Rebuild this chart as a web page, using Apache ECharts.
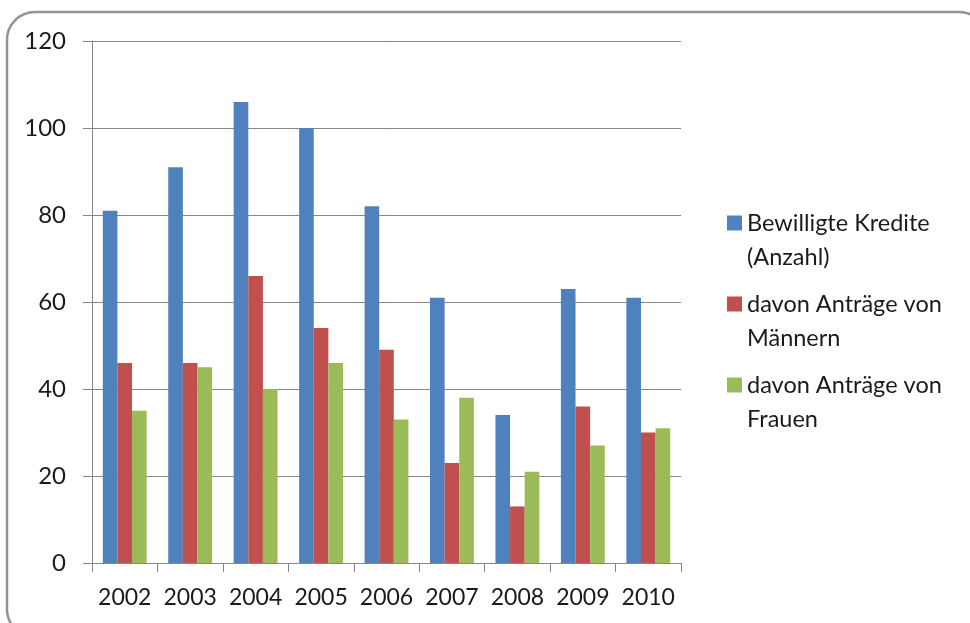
<!DOCTYPE html>
<html>
<head>
<meta charset="utf-8">
<script src="https://cdn.jsdelivr.net/npm/echarts@6/dist/echarts.min.js"></script>
<style>
  html, body { margin: 0; padding: 0; background: #ffffff; }
  #chart { width: 970px; height: 623px; }
</style>
</head>
<body>
<div id="chart"></div>
<script>
// Jahre
const years = ['2002', '2003', '2004', '2005', '2006', '2007', '2008', '2009', '2010'];

// Bewilligte Kredite gesamt und Aufteilung nach Antragstellern
const kredite = [81, 91, 106, 100, 82, 61, 34, 63, 61];
const maenner = [46, 46, 66, 54, 49, 23, 13, 36, 30];
const frauen  = [35, 45, 40, 46, 33, 38, 21, 27, 31];

const seriesNames = ['Bewilligte Kredite (Anzahl)', 'davon Anträge von Männern', 'davon Anträge von Frauen'];
const legendLabels = {
  'Bewilligte Kredite (Anzahl)': 'Bewilligte Kredite\n(Anzahl)',
  'davon Anträge von Männern': 'davon Anträge von\nMännern',
  'davon Anträge von Frauen': 'davon Anträge von\nFrauen'
};
const colors = ['#4F81BD', '#C0504D', '#9BBB59'];

const FONT = 'Lato, "Open Sans", sans-serif';
const AXIS_GRAY = '#868686';

// Legend marker: square aligned with the first text line
const legendIcon = 'path://M0,0H15V15H0Z M0,49L0,49';

const chart = echarts.init(document.getElementById('chart'), null, { renderer: 'canvas' });

chart.setOption({
  animation: false,
  backgroundColor: '#ffffff',
  textStyle: { fontFamily: FONT },
  graphic: [{
    type: 'rect',
    shape: { x: 7, y: 12, width: 980, height: 625, r: 28 },
    style: { fill: 'none', stroke: '#939393', lineWidth: 2.5 },
    z: -1
  }],
  grid: { left: 92, right: 289, top: 41, bottom: 60 },
  legend: {
    orient: 'vertical',
    left: 722,
    top: 201,
    itemWidth: 15,
    itemHeight: 49,
    itemGap: 13,
    icon: legendIcon,
    formatter: name => legendLabels[name],
    textStyle: { fontFamily: FONT, fontSize: 23.5, lineHeight: 34, color: '#1a1a1a' },
    data: seriesNames
  },
  xAxis: {
    type: 'category',
    data: years,
    boundaryGap: true,
    axisLine: { show: true, lineStyle: { color: AXIS_GRAY, width: 1 } },
    axisTick: { show: true, length: 9, alignWithLabel: false, lineStyle: { color: AXIS_GRAY } },
    axisLabel: { fontFamily: FONT, fontSize: 23, color: '#1a1a1a', margin: 23, interval: 0 },
    splitLine: { show: false }
  },
  yAxis: {
    type: 'value',
    min: 0,
    max: 120,
    interval: 20,
    axisLine: { show: true, lineStyle: { color: AXIS_GRAY, width: 1 } },
    axisTick: { show: true, length: 9, lineStyle: { color: AXIS_GRAY } },
    axisLabel: { fontFamily: FONT, fontSize: 24, color: '#1a1a1a', margin: 26 },
    splitLine: { show: true, lineStyle: { color: AXIS_GRAY, width: 1 } }
  },
  series: [
    { name: seriesNames[0], type: 'bar', data: kredite, itemStyle: { color: colors[0] }, barGap: '0%', barCategoryGap: '33%' },
    { name: seriesNames[1], type: 'bar', data: maenner, itemStyle: { color: colors[1] }, barGap: '0%', barCategoryGap: '33%' },
    { name: seriesNames[2], type: 'bar', data: frauen,  itemStyle: { color: colors[2] }, barGap: '0%', barCategoryGap: '33%' }
  ]
});
</script>
</body>
</html>
